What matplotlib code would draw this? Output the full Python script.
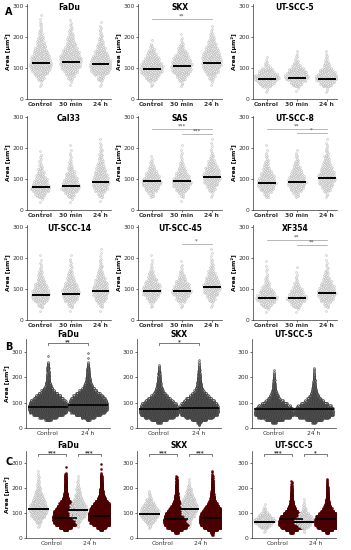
import numpy as np
import matplotlib
matplotlib.use("Agg")
import matplotlib.pyplot as plt

# ---- data ---------------------------------------------------------------
# Section A: counts per 20 um^2 bin (0-20, 20-40, ... 280-300), one row per group
groups_a = ["Control", "30 min", "24 h"]
names_a = ["FaDu", "SKX", "UT-SCC-5", "Cal33", "SAS", "UT-SCC-8",
           "UT-SCC-14", "UT-SCC-45", "XF354"]

fadu_a = [[0, 0, 3, 15, 35, 45, 40, 30, 20, 12, 7, 4, 3, 1, 0],
          [0, 0, 2, 10, 28, 42, 45, 35, 22, 14, 8, 5, 2, 0, 0],
          [0, 0, 3, 14, 38, 45, 38, 25, 15, 9, 5, 3, 1, 0, 0]]
skx_a = [[0, 0, 5, 25, 45, 45, 30, 16, 6, 1, 0, 0, 0, 0, 0],
         [0, 0, 4, 18, 38, 42, 35, 20, 10, 3, 1, 0, 0, 0, 0],
         [0, 0, 2, 10, 28, 38, 40, 32, 20, 12, 5, 2, 0, 0, 0]]
utscc5_a = [[0, 3, 30, 55, 30, 8, 2, 0, 0, 0, 0, 0, 0, 0, 0],
            [0, 2, 22, 50, 38, 15, 5, 2, 0, 0, 0, 0, 0, 0, 0],
            [0, 3, 28, 50, 30, 12, 5, 2, 0, 0, 0, 0, 0, 0, 0]]
cal33_a = [[0, 2, 20, 40, 30, 18, 10, 5, 3, 1, 0, 0, 0, 0, 0],
           [0, 2, 16, 38, 32, 20, 12, 6, 3, 2, 1, 0, 0, 0, 0],
           [0, 1, 10, 28, 35, 28, 20, 12, 8, 5, 3, 1, 0, 0, 0]]
sas_a = [[0, 0, 8, 28, 40, 30, 15, 6, 2, 0, 0, 0, 0, 0, 0],
         [0, 1, 8, 28, 40, 28, 15, 7, 3, 2, 1, 0, 0, 0, 0],
         [0, 0, 3, 15, 30, 35, 28, 16, 8, 3, 2, 1, 0, 0, 0]]
utscc8_a = [[0, 0, 10, 30, 38, 28, 16, 10, 5, 2, 1, 0, 0, 0, 0],
            [0, 0, 8, 28, 38, 30, 18, 10, 5, 2, 0, 0, 0, 0, 0],
            [0, 0, 4, 18, 32, 34, 26, 16, 10, 5, 3, 1, 0, 0, 0]]
utscc14_a = [[0, 1, 12, 35, 35, 25, 14, 8, 4, 2, 1, 0, 0, 0, 0],
             [0, 1, 10, 30, 35, 28, 16, 10, 5, 3, 1, 0, 0, 0, 0],
             [0, 1, 8, 25, 32, 30, 20, 12, 7, 4, 2, 1, 0, 0, 0]]
utscc45_a = [[0, 0, 5, 20, 38, 35, 20, 10, 4, 2, 1, 0, 0, 0, 0],
             [0, 0, 5, 22, 40, 32, 18, 8, 3, 1, 0, 0, 0, 0, 0],
             [0, 0, 3, 15, 30, 35, 26, 16, 8, 4, 2, 1, 0, 0, 0]]
xf354_a = [[0, 2, 22, 45, 30, 14, 6, 3, 2, 1, 0, 0, 0, 0, 0],
           [0, 2, 20, 42, 28, 12, 5, 2, 1, 0, 0, 0, 0, 0, 0],
           [0, 1, 10, 30, 38, 28, 16, 8, 4, 2, 1, 0, 0, 0, 0]]
counts_a = [fadu_a, skx_a, utscc5_a, cal33_a, sas_a, utscc8_a,
            utscc14_a, utscc45_a, xf354_a]

medians_a = [[115, 120, 112], [98, 105, 117], [63, 68, 65],
             [75, 78, 90], [92, 92, 107], [88, 90, 103],
             [80, 85, 92], [95, 92, 105], [72, 72, 88]]

# significance: (panel, group1, group2, level, label)
sig_a = [(1, 0, 2, 258, "**"),
         (4, 0, 2, 262, "***"), (4, 1, 2, 244, "***"),
         (5, 0, 2, 262, "**"), (5, 1, 2, 247, "*"),
         (7, 1, 2, 245, "*"),
         (8, 0, 2, 258, "**"), (8, 1, 2, 242, "**")]

# Sections B and C: counts per 10 um^2 bin (0-10 ... 290-300)
names_bc = ["FaDu", "SKX", "UT-SCC-5"]
groups_b = ["Control", "24 h"]
fadu_b = [[0, 0, 0, 40, 120, 200, 250, 260, 260, 250, 240, 200, 170, 130, 90,
           60, 40, 30, 22, 18, 15, 13, 11, 10, 8, 5, 0, 0, 1, 0],
          [0, 0, 0, 25, 90, 170, 230, 260, 260, 260, 250, 230, 200, 160, 120,
           80, 55, 40, 30, 24, 20, 16, 13, 10, 7, 4, 0, 1, 0, 1]]
skx_b = [[0, 0, 30, 110, 200, 250, 260, 260, 250, 230, 190, 150, 110, 80, 55,
          40, 30, 24, 19, 15, 12, 10, 7, 5, 3, 0, 0, 0, 0, 0],
         [0, 5, 25, 100, 190, 245, 260, 260, 255, 240, 210, 170, 130, 95, 65,
          45, 34, 27, 22, 17, 14, 11, 9, 6, 4, 2, 2, 0, 0, 0]]
utscc5_b = [[0, 0, 30, 120, 220, 260, 260, 250, 220, 170, 120, 80, 55, 38, 28,
             20, 15, 12, 9, 7, 5, 3, 2, 0, 0, 0, 0, 0, 0, 0],
            [0, 0, 25, 110, 210, 255, 260, 255, 230, 180, 130, 90, 62, 42, 31,
             24, 18, 14, 11, 8, 6, 4, 3, 2, 0, 0, 0, 0, 0, 0]]
counts_b = [fadu_b, skx_b, utscc5_b]
medians_b = [[82, 90], [75, 79], [75, 75]]
sig_b = [(0, "**"), (1, "*"), (2, None)]

# C = grey (A data, Control and 24 h) next to red (B data)
sig_c = [("***", "***"), ("***", "***"), ("***", "*")]

# ---- drawing helpers -------------------------------------------------------
W, H = 351, 550
fig = plt.figure(figsize=(W / 100, H / 100), dpi=100)
plt.rcParams['font.family'] = ['DejaVu Sans']
FS = 4.3


def add_ax(left, bottom, width, height):
    return fig.add_axes([left / W, 1 - bottom / H, width / W, height / H])


def style(ax, ylab):
    for s in ["top", "right"]:
        ax.spines[s].set_visible(False)
    for s in ["left", "bottom"]:
        ax.spines[s].set_linewidth(0.5)
        ax.spines[s].set_color("#333333")
    ax.tick_params(length=1.5, width=0.5, labelsize=FS, pad=1, colors="#333333")
    ax.set_yticks([0, 100, 200, 300])
    if ylab:
        ax.set_ylabel("Area [µm²]", fontsize=FS, fontweight="bold", labelpad=1)


def smooth_swarm(ax, x0, counts, med, scale, mw):
    counts = np.asarray(counts, float)
    centers = np.arange(len(counts)) * 20 + 10
    ys = []
    for i, c in enumerate(counts):
        n = int(c)
        if n:
            ys.extend(i * 20 + (np.arange(n) + 0.5) / n * 20)
    ys = np.sort(np.array(ys))
    hw = scale * np.interp(ys, centers, counts)
    k = np.arange(len(ys))
    xs = x0 + hw * (2 * ((k * 0.618034 + 0.37) % 1) - 1)
    ax.scatter(xs, ys, s=2.0, facecolor="#f0f0f0", edgecolor="#a8a8a8",
               linewidth=0.25, zorder=2)
    ax.plot([x0 - mw, x0 + mw], [med, med], color="black", lw=1.4, zorder=4,
            solid_capstyle="butt")


def step_swarm(ax, x0, counts, med, scale, mw, face, edge, halo=None):
    xs, ys = [], []
    for i, c in enumerate(counts):
        n = int(c)
        if not n:
            continue
        j = np.arange(n)
        hw = scale * n
        ys.append(i * 10 + (j + 0.5) / n * 10)
        xs.append(x0 + hw * (2 * ((j * 0.618034 + 0.21 * i) % 1) - 1))
    xs = np.concatenate(xs)
    ys = np.concatenate(ys)
    if halo:
        ax.scatter(xs, ys, s=4.5, color=halo, linewidth=0, zorder=1)
    ax.scatter(xs, ys, s=1.8, facecolor=face, edgecolor=edge, linewidth=0.25,
               zorder=2)
    ax.plot([x0 - mw, x0 + mw], [med, med], color="black", lw=1.2, zorder=4,
            solid_capstyle="butt")


def bracket(ax, x1, x2, y, text):
    ax.plot([x1, x1, x2, x2], [y - 6, y, y, y - 6], color="#444444", lw=0.5,
            clip_on=False)
    ax.text((x1 + x2) / 2, y - 3, text, ha="center", va="bottom", fontsize=4,
            fontweight="bold", color="#333333", clip_on=False)


# ---- section A --------------------------------------------------------------
col_left = [27, 138, 253]
row_bottom_a = [99, 210, 320]
ax_w = 84
scale_a = 0.42 / 50
for p, name in enumerate(names_a):
    r, c = divmod(p, 3)
    ax = add_ax(col_left[c], row_bottom_a[r], ax_w, 94.5)
    style(ax, True)
    for g in range(3):
        smooth_swarm(ax, g, counts_a[p][g], medians_a[p][g], scale_a, 0.3)
    ax.set_xlim(-0.45, 2.35)
    ax.set_ylim(0, 305)
    ax.set_xticks(range(3))
    ax.set_xticklabels(groups_a, fontweight="bold")
    ax.text(0.5, 0.965, name, transform=ax.transAxes, ha="center", va="center",
            fontsize=5.5, fontweight="bold")
for p, g1, g2, y, lab in sig_a:
    ax = fig.axes[p]
    ax.plot([g1, g2], [y, y], color="#9a9a9a", lw=0.5)
    ax.text((g1 + g2) / 2, y + 2, lab, ha="center", va="bottom", fontsize=4,
            color="#444444")

# ---- section B --------------------------------------------------------------
for c, name in enumerate(names_bc):
    ax = add_ax(col_left[c] - 1, 428, ax_w, 88.6)
    style(ax, c == 0)
    for g in range(2):
        step_swarm(ax, g, counts_b[c][g], medians_b[c][g], 0.48 / 260, 0.5,
                   "#b5b5b5", "#111111")
    ax.set_xlim(-0.55, 1.55)
    ax.set_ylim(0, 350)
    ax.set_xticks(range(2))
    ax.set_xticklabels(groups_b)
    ax.set_title(name, fontsize=5.5, fontweight="bold", pad=1.5)
    if sig_b[c][1]:
        bracket(ax, 0, 1, 335, sig_b[c][1])

# ---- section C --------------------------------------------------------------
pos_c = [0, 1.1, 1.6, 2.55]
for c, name in enumerate(names_bc):
    ax = add_ax(col_left[c] - 1, 538, ax_w, 87.5)
    style(ax, c == 0)
    for g in range(2):
        ga = 0 if g == 0 else 2
        smooth_swarm(ax, pos_c[2 * g], counts_a[c][ga], medians_a[c][ga],
                     0.42 / 50, 0.42)
        step_swarm(ax, pos_c[2 * g + 1], counts_b[c][g], medians_b[c][g],
                   0.5 / 260, 0.45, "#6e0000", "#3d0000", halo="#f3a9c4")
    ax.set_xlim(-0.5, 2.9)
    ax.set_ylim(0, 350)
    ax.set_xticks([(pos_c[0] + pos_c[1]) / 2, (pos_c[2] + pos_c[3]) / 2])
    ax.set_xticklabels(groups_b)
    ax.set_title(name, fontsize=5.5, fontweight="bold", pad=1.5)
    bracket(ax, pos_c[0], pos_c[1], 335, sig_c[c][0])
    bracket(ax, pos_c[2], pos_c[3], 335, sig_c[c][1])

# panel letters
for lab, y in [("A", 12), ("B", 347), ("C", 462)]:
    fig.text(5 / W, 1 - y / H, lab, fontsize=7, fontweight="bold",
             va="center", ha="left")

fig.savefig("out.png", dpi=100)
